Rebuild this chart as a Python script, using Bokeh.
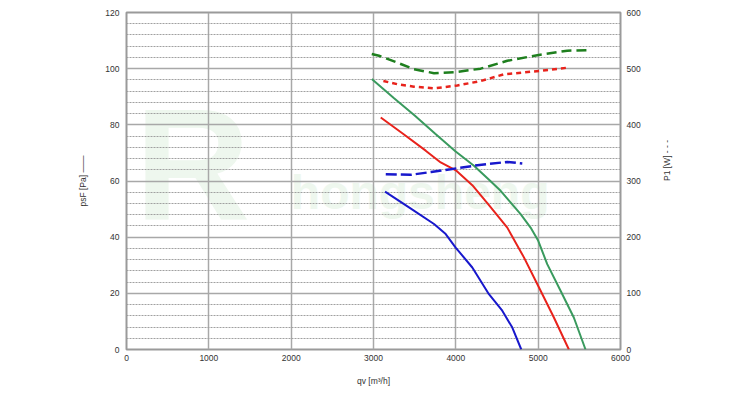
import math
from bokeh.plotting import figure
from bokeh.models import Range1d, LinearAxis, SingleIntervalTicker, Label
from bokeh.embed import file_html
from bokeh.resources import INLINE

# ---- data ----
q_green = [2979, 3250, 3500, 3750, 3998, 4220, 4400, 4544, 4787, 4908, 5001, 5110, 5272, 5433, 5575]
ps_green = [96.3, 89.5, 83.3, 76.8, 70.5, 65.4, 60.5, 56.5, 48.2, 43.4, 38.7, 30.4, 20.9, 11.4, 0.0]

q_red = [3088, 3350, 3634, 3816, 4000, 4200, 4400, 4625, 4827, 4989, 5191, 5373]
ps_red = [82.6, 77.0, 70.8, 66.6, 63.8, 58.5, 51.5, 43.4, 32.8, 23.3, 11.4, 0.0]

q_blue = [3140, 3431, 3735, 3877, 3998, 4200, 4402, 4564, 4686, 4795]
ps_blue = [56.2, 50.6, 44.7, 41.1, 36.3, 29.2, 19.7, 13.8, 7.8, 0.0]

qp_green = [2979, 3067, 3250, 3492, 3735, 3998, 4301, 4625, 4989, 5353, 5587]
p1_green = [526, 523, 513, 499, 492, 494, 500, 514, 524, 532, 533]

qp_red = [3120, 3300, 3492, 3735, 4018, 4301, 4584, 4948, 5373]
p1_red = [478, 472, 468, 465, 470, 478, 490, 495, 502]

qp_blue = [3149, 3452, 3700, 3937, 4261, 4625, 4807]
p1_blue = [312, 311, 316, 321, 328, 334, 331]

x_ticks = [0, 1000, 2000, 3000, 4000, 5000, 6000]

FONT = "Liberation Sans"
TXT = "#333333"

p = figure(width=750, height=396, output_backend="svg", toolbar_location=None,
           x_range=Range1d(0, 6000), y_range=Range1d(0, 120),
           min_border_left=126, min_border_right=130, min_border_top=12, min_border_bottom=47)
p.extra_y_ranges = {"power": Range1d(0, 600)}
p.background_fill_color = "white"
p.border_fill_color = "white"
p.outline_line_color = "#9a9a9a"
p.outline_line_width = 2

# watermark (very pale)
p.add_layout(Label(x=100, y=34, text="R", text_font=FONT, text_font_style="bold",
                   text_font_size="160px", text_color="#eef7ee", level="image"))
p.add_layout(Label(x=1996, y=46.5, text="hongsheng", text_font=FONT, text_font_style="bold",
                   text_font_size="48px", text_color="#eef7ee", level="image"))

# axes
p.xaxis.ticker = x_ticks
p.yaxis.ticker = SingleIntervalTicker(interval=20, num_minor_ticks=5)
p.xaxis.axis_label = "qv [m³/h]"
p.yaxis.axis_label = "psF [Pa] ——"
right = LinearAxis(y_range_name="power", ticker=SingleIntervalTicker(interval=100),
                   axis_label="P1 [W] - - -")
right.axis_label_orientation = math.pi / 2
p.add_layout(right, "right")

for ax in [p.xaxis[0], p.yaxis[0], right]:
    ax.axis_line_color = None
    ax.major_tick_line_color = None
    ax.minor_tick_line_color = None
    ax.major_tick_out = 0
    ax.major_tick_in = 0
    ax.minor_tick_out = 0
    ax.minor_tick_in = 0
    ax.major_label_text_font = FONT
    ax.major_label_text_font_size = "8.5px"
    ax.major_label_text_color = TXT
    ax.axis_label_text_font = FONT
    ax.axis_label_text_font_size = "8.5px"
    ax.axis_label_text_font_style = "normal"
    ax.axis_label_text_color = TXT

p.yaxis[0].major_label_standoff = 7
p.yaxis[0].axis_label_standoff = 14
right.major_label_standoff = 6
right.axis_label_standoff = 23
p.xaxis[0].major_label_standoff = 5
p.xaxis[0].axis_label_standoff = 12

# grid
p.xgrid.grid_line_color = "#a8a8a8"
p.xgrid.grid_line_width = 1.5
p.ygrid.grid_line_color = "#a8a8a8"
p.ygrid.grid_line_width = 1.5
p.ygrid.minor_grid_line_color = "#a0a0a0"
p.ygrid.minor_grid_line_dash = "2 1"
p.ygrid.minor_grid_line_width = 1

# pressure curves
p.line(q_green, ps_green, line_color="#3a9a5e", line_width=2)
p.line(q_red, ps_red, line_color="#e8231c", line_width=2)
p.line(q_blue, ps_blue, line_color="#1818cc", line_width=2)

# power curves
p.line(qp_green, p1_green, y_range_name="power", line_color="#1e7f1e", line_width=2.5, line_dash="10 5")
p.line(qp_red, p1_red, y_range_name="power", line_color="#e8231c", line_width=2.5, line_dash="5 4")
p.line(qp_blue, p1_blue, y_range_name="power", line_color="#1818cc", line_width=2.5, line_dash="11 4")

open("out.html", "w").write(file_html(p, INLINE))
